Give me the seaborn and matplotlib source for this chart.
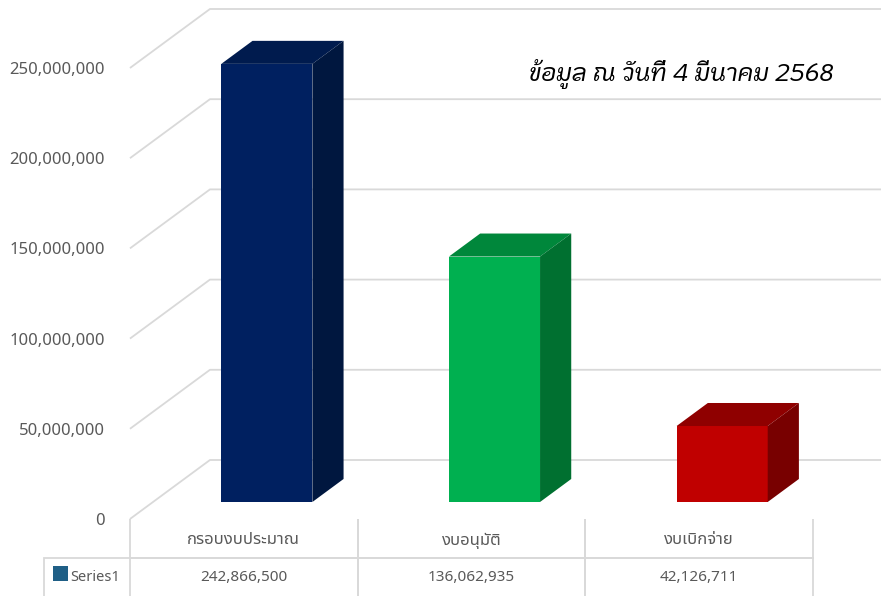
import numpy as np
import matplotlib
matplotlib.use("Agg")
import matplotlib.pyplot as plt
import seaborn as sns
from matplotlib.patches import Polygon, Rectangle
from matplotlib.table import Table
from matplotlib.ticker import FuncFormatter

# data
categories = ['กรอบงบประมาณ', 'งบอนุมัติ', 'งบเบิกจ่าย']
values = [242866500, 136062935, 42126711]
series_name = 'Series1'
title = 'ข้อมูล ณ วันที่ 4 มีนาคม 2568'
y_ticks = [0, 50000000, 100000000, 150000000, 200000000, 250000000]

front_colors = ['#002060', '#00b050', '#c00000']
side_colors = ['#00173f', '#007030', '#780000']
top_colors = ['#001b4e', '#00873b', '#8f0000']
key_color = '#1f5f86'
grid_color = '#d9d9d9'
text_color = '#595959'

W, H = 881, 596
sns.set_theme(style='white')
plt.rcParams['font.family'] = ['Noto Sans', 'Noto Sans Thai']


def box(left, top, right, bottom):
    """pixel box (image coords) -> figure fraction rect"""
    return [left / W, 1 - bottom / H, (right - left) / W, (bottom - top) / H]


fig = plt.figure(figsize=(W / 100, H / 100), dpi=100)
ax_front = fig.add_axes(box(130, 68, 813, 519))   # front plane: tick labels + table
ax = fig.add_axes(box(153, 51, 836, 502))         # bar plane

for a in (ax_front, ax):
    a.set_xlim(-0.5, 2.5)
    a.set_ylim(0, 250000000)
    a.patch.set_visible(False)
    for s in a.spines.values():
        s.set_visible(False)

sns.barplot(x=categories, y=values, hue=categories, palette=front_colors,
            width=0.4, saturation=1, linewidth=0, legend=False, ax=ax, zorder=2)
ax.set_xlim(-0.5, 2.5)
ax.set_ylim(0, 250000000)
ax.axis('off')

ax_front.set_xticks([])
ax_front.set_yticks(y_ticks)
ax_front.yaxis.set_major_formatter(FuncFormatter(lambda v, p: f'{v:,.0f}'))
ax_front.tick_params(axis='y', length=0, pad=18, labelsize=12, labelcolor=text_color)

# oblique depth (display pixels)
depth = np.array([80.0, 59.0])
front_frac = 0.288
bar_frac = 0.39
to_disp = ax.transData.transform
to_data = ax.transData.inverted().transform

# walls: side wall diagonals + back wall gridlines
for v in y_ticks:
    base = to_disp((-0.5, v))
    front = base - front_frac * depth
    back = base + (1 - front_frac) * depth
    pts = to_data(np.array([front, back, [W, back[1]]]))
    ax.plot(pts[:, 0], pts[:, 1], color=grid_color, lw=1.3, clip_on=False,
            zorder=0, solid_capstyle='butt')

# 3d top and side faces for each bar
bd = bar_frac * depth
for i, p in enumerate(ax.patches):
    x0, x1, h = p.get_x(), p.get_x() + p.get_width(), p.get_height()
    a_, b_, c_ = to_disp((x0, h)), to_disp((x1, h)), to_disp((x1, 0))
    top = to_data(np.array([a_, b_, b_ + bd, a_ + bd]))
    side = to_data(np.array([b_, c_, c_ + bd, b_ + bd]))
    ax.add_patch(Polygon(top, closed=True, facecolor=top_colors[i], lw=0, zorder=3, clip_on=False))
    ax.add_patch(Polygon(side, closed=True, facecolor=side_colors[i], lw=0, zorder=3, clip_on=False))

# data table under the chart (sizes in front-axes fractions)
row_h = 39 / 451
col_w = 1 / 3
tb = Table(ax_front, loc='bottom')
tb.auto_set_font_size(False)
for j, cat in enumerate(categories):
    c = tb.add_cell(0, j, col_w, row_h, text=cat, loc='center', facecolor='none', edgecolor=grid_color)
    c.visible_edges = 'BLR'
    c.get_text().set_fontsize(12)
    c.get_text().set_verticalalignment('center_baseline')
    c = tb.add_cell(1, j, col_w, row_h, text=f'{values[j]:,}', loc='center', facecolor='none', edgecolor=grid_color)
    c.get_text().set_fontsize(11)
c = tb.add_cell(1, -1, 86 / 683, row_h, text=series_name, loc='right', facecolor='none', edgecolor=grid_color)
c.visible_edges = 'TBL'
c.PAD = 0.12
c.get_text().set_fontsize(10.5)
for cell in tb.get_celld().values():
    cell.set_linewidth(1.3)
    cell.get_text().set_color(text_color)
ax_front.add_table(tb)

fig.add_artist(Rectangle((53 / W, 1 - 581 / H), 15 / W, 15 / H, transform=fig.transFigure,
                         facecolor=key_color, lw=0))

fig.text(681 / W, 1 - 74 / H, title, ha='center', va='center', fontsize=17.5,
         style='italic', weight='medium', family=['KoHo', 'Noto Sans'], color='black')

fig.savefig('out.png', dpi=100)
